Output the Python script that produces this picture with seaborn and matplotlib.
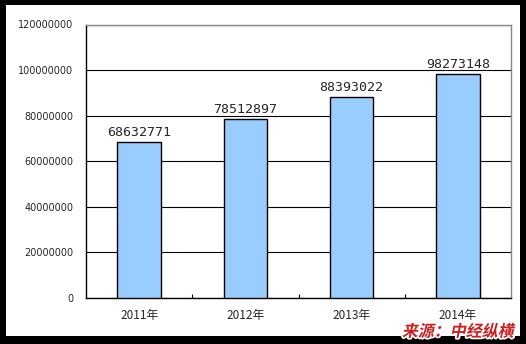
import matplotlib
matplotlib.use("Agg")
import matplotlib.pyplot as plt
import matplotlib.patheffects as pe
from matplotlib.patches import Rectangle
from matplotlib.transforms import Affine2D
import seaborn as sns
import pandas as pd

years = ["2011年", "2012年", "2013年", "2014年"]
values = [68632771, 78512897, 88393022, 98273148]
yticks = [0, 20000000, 40000000, 60000000, 80000000, 100000000, 120000000]
source = "来源：中经纵横"

sns.set_style("white")
plt.rcParams['font.family'] = ['Noto Sans CJK SC', 'DejaVu Sans']

W, H = 526, 344
fig = plt.figure(figsize=(W / 100, H / 100), dpi=100, facecolor="black")
fig.patches.append(Rectangle((6 / W, 8 / H), 514 / W, 331 / H, transform=fig.transFigure,
                             facecolor="white", edgecolor="none", zorder=-5))

ax = fig.add_axes([86 / W, 46 / H, 425 / W, 273.5 / H])
ax.set_facecolor("white")
df = pd.DataFrame({"year": years, "value": values})
sns.barplot(data=df, x="year", y="value", color="#99CCFF", edgecolor="black",
            linewidth=1.0, width=0.41, saturation=1, ax=ax, zorder=3)

ax.set_ylim(0, 120000000)
ax.set_xlim(-0.5, 3.5)
ax.set_yticks(yticks)
ax.set_yticklabels([str(v) for v in yticks], fontsize=7, family="DejaVu Sans")
ax.tick_params(axis="y", length=0, pad=9)
ax.set_xticks([0, 1, 2, 3])
ax.set_xticklabels(years, fontsize=8.5)
ax.tick_params(axis="x", which="major", length=0, pad=8)
ax.set_xticks([0.5, 1.5, 2.5], minor=True)
ax.tick_params(axis="x", which="minor", bottom=True, direction="in", length=3,
               width=0.8, color="black")
ax.set_xlabel("")
ax.set_ylabel("")
ax.yaxis.grid(True, color="black", linewidth=0.8)
ax.set_axisbelow(True)
for s in ["left", "bottom"]:
    ax.spines[s].set_color("black")
    ax.spines[s].set_linewidth(1.0)
for s in ["top", "right"]:
    ax.spines[s].set_color("#888888")
    ax.spines[s].set_linewidth(1.0)

for c in ax.containers:
    ax.bar_label(c, labels=[str(v) for v in values], padding=2, fontsize=9.5,
                 family="DejaVu Sans Mono")


class Skewed(pe.AbstractPathEffect):
    def __init__(self, inner, deg, yref):
        super().__init__()
        self.inner = inner
        self.deg = deg
        self.yref = yref

    def draw_path(self, renderer, gc, tpath, affine, rgbFace=None):
        sk = Affine2D().translate(0, -self.yref).skew_deg(self.deg, 0).translate(0, self.yref)
        self.inner.draw_path(renderer, gc, tpath, affine + sk, rgbFace)


fig.text(402 / W, 12.5 / H, source, fontsize=11.5, color="#CC2020", fontweight="bold",
         ha="left", va="center", zorder=5,
         path_effects=[Skewed(pe.Stroke(linewidth=2.5, foreground="white"), 12, 8),
                       Skewed(pe.Normal(), 12, 8)])

fig.savefig("out.png", dpi=100, facecolor="black")
